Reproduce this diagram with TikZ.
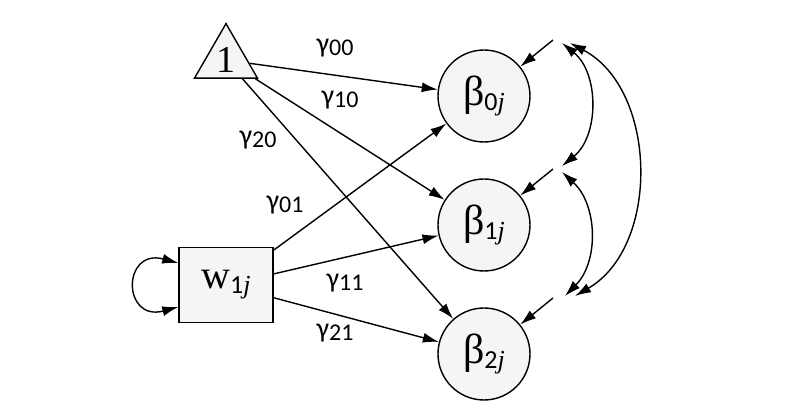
\documentclass[tikz,border=0pt]{standalone}
\usepackage{fontspec}
\setmainfont{Carlito}
\newfontfamily\cambria{Liberation Serif}
\usetikzlibrary{arrows.meta,positioning,shapes.geometric}
\tikzset{latent/.style={draw,circle,fill=gray!8,minimum size=46pt,inner sep=0pt,line width=0.7pt},
  obs/.style={draw,rectangle,fill=gray!8,minimum width=47pt,minimum height=37.5pt,inner sep=0pt,line width=0.7pt},
  const/.style={draw,regular polygon,regular polygon sides=3,fill=gray!8,minimum size=36.4pt,inner sep=0pt,line width=0.7pt},
  arr/.style={-{Latex[length=8pt,width=5pt]},line width=0.7pt},
  cov/.style={{Latex[length=8pt,width=5pt]}-{Latex[length=8pt,width=5pt]},line width=0.7pt},
  coef/.style={font=\fontsize{14}{16}\selectfont}}
\newcommand{\gam}[1]{γ\raisebox{-1.5pt}{\fontsize{12}{12}\selectfont #1}}
\newcommand{\bet}[1]{{\cambria\fontsize{21}{21}\selectfont β}\raisebox{-2.5pt}{\fontsize{13}{13}\selectfont #1{\cambria\itshape j}}}

\begin{document}
\begin{tikzpicture}[x=0.5pt,y=0.5pt]
\useasboundingbox (0,0) rectangle (800,418);
% predictors
\node[const,label={[font=\cambria\fontsize{19}{19}\selectfont]center:1}] (one) at (226,358) {};
\node[obs] (w) at (226,133) {{\cambria\fontsize{20}{20}\selectfont w}\raisebox{-2.5pt}{\fontsize{13}{13}\selectfont 1{\cambria\itshape j}}};
% random coefficients
\foreach \n/\y in {0/322,1/193,2/64}{
  \node[latent] (b\n) at (484,\y) {\bet{\n}};
  \coordinate (e\n) at (553,\y+56);
  \draw[arr] (e\n) -- (b\n);
}
% paths
\foreach \s/\t in {one/b0,one/b1,one/b2,w/b0,w/b1,w/b2} \draw[arr] (\s) -- (\t);
\foreach \n/\l/\p in {g00/00/{(335,370)},g10/10/{(340,318)},g20/20/{(258,278)},g01/01/{(285,213)},g11/11/{(345,135)},g21/21/{(335,85)}}
  \node[coef] (\n) at \p {\gam{\l}};
% self loop
\draw[cov] ([yshift=11pt]w.west) to[out=165,in=195,looseness=3.4] ([yshift=-11pt]w.west);
% covariances
\coordinate (c0s) at (562,375);
\coordinate (c0l) at (570,375);
\coordinate (c1u) at (562,252);
\coordinate (c1d) at (562,246);
\coordinate (c2s) at (565,122);
\coordinate (c2l) at (575,122);
\draw[cov] (c0s) to[bend left=51] (c1u);
\draw[cov] (c1d) to[bend left=46] (c2s);
\draw[cov] (c0l) to[bend left=61] (c2l);
\end{tikzpicture}
\end{document}
